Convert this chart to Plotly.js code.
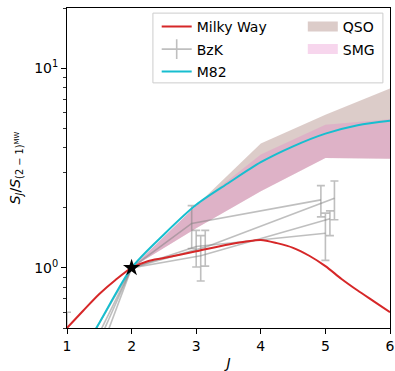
<!DOCTYPE html>
<html>
<head>
<meta charset="utf-8">
<script src="https://cdn.plot.ly/plotly-3.0.1.min.js"></script>
<style>html,body{margin:0;padding:0;background:#fff;}#chart{width:395px;height:371px;}</style>
</head>
<body>
<div id="chart"></div>
<script>
// ---- data ----
const mwJ   = [1, 1.25, 1.5, 1.75, 2, 2.25, 2.5, 3, 3.5, 3.75, 4, 4.25, 4.5, 4.75, 5, 5.25, 5.5, 5.75, 6];
const mwS   = [0.50, 0.61, 0.74, 0.87, 1.00, 1.08, 1.12, 1.21, 1.31, 1.35, 1.38, 1.33, 1.26, 1.15, 1.02, 0.88, 0.77, 0.68, 0.60];

const m82J  = [1, 1.5, 2, 2.5, 3, 3.5, 4, 4.5, 5, 5.5, 6];
const m82S  = [0.28, 0.53, 1.00, 1.47, 2.07, 2.66, 3.38, 4.06, 4.70, 5.18, 5.45];

const bandJ    = [2, 3, 4, 5, 6];
const qsoHigh  = [1.00, 2.05, 4.20, 5.85, 7.90];
const qsoLow   = [1.00, 1.58, 2.42, 3.55, 3.52];
const smgHigh  = [1.00, 2.05, 3.70, 5.20, 5.55];
const smgLow   = [1.00, 1.58, 2.42, 3.55, 3.52];

const bzkJ = [1, 2, 3, 5];
const bzkS = [
  [0.20, 1, 1.67, 2.19],
  [0.28, 1, 1.28, 1.49],
  [0.21, 1, 1.15, 1.76],
  [0.18, 1, 1.27, 2.23]
];
const bzkErrUp = [
  [0.08, 0, 0.38, 0.39],
  [0.32, 0, 0.26, 0.39],
  [0.08, 0, 0.30, 0.17],
  [0.07, 0, 0.27, 0.49]
];
const bzkErrDn = [
  [0.08, 0, 0.42, 0.39],
  [0.12, 0, 0.27, 0.40],
  [0.08, 0, 0.29, 0.31],
  [0.07, 0, 0.25, 0.49]
];
const refJ = [2];
const refS = [1];

const yTickVals = [1, 10];
const yTickText = ['10<sup>0</sup>', '10<sup>1</sup>'];
const yMinorVals = [0.5, 0.6, 0.7, 0.8, 0.9, 2, 3, 4, 5, 6, 7, 8, 9, 20];

// ---- styling ----
const FONT = 'DejaVu Sans, sans-serif';
const xOffsets = [-0.07, 0, 0.07, 0.14];   // horizontal dodge of the sources (not at J=2)
const grayC = 'rgba(128,128,128,0.5)';

function band(J, hi, lo) {
  return { x: J.concat(J.slice().reverse()), y: hi.concat(lo.slice().reverse()) };
}
const qso = band(bandJ, qsoHigh, qsoLow);
const smg = band(bandJ, smgHigh, smgLow);

const traces = [];
traces.push({ x: qso.x, y: qso.y, type: 'scatter', mode: 'lines', fill: 'toself',
  fillcolor: 'rgba(140,86,75,0.3)', line: { width: 0 }, showlegend: false, hoverinfo: 'skip' });
traces.push({ x: smg.x, y: smg.y, type: 'scatter', mode: 'lines', fill: 'toself',
  fillcolor: 'rgba(227,119,194,0.3)', line: { width: 0 }, showlegend: false, hoverinfo: 'skip' });

bzkS.forEach((s, i) => {
  traces.push({
    x: bzkJ.map(j => j === 2 ? j : j + xOffsets[i]), y: s,
    type: 'scatter', mode: 'lines', line: { color: grayC, width: 1.6 },
    error_y: { type: 'data', symmetric: false, array: bzkErrUp[i], arrayminus: bzkErrDn[i],
      color: grayC, thickness: 1.6, width: 4 },
    showlegend: false
  });
});

traces.push({ x: mwJ, y: mwS, type: 'scatter', mode: 'lines', name: 'Milky Way',
  line: { color: '#d62728', width: 2, shape: 'spline', smoothing: 0.8 }, legend: 'legend' });
traces.push({ x: m82J, y: m82S, type: 'scatter', mode: 'lines', name: 'M82',
  line: { color: '#17becf', width: 2, shape: 'spline', smoothing: 0.8 }, legend: 'legend3' });
traces.push({ x: refJ, y: refS, type: 'scatter', mode: 'markers', showlegend: false,
  marker: { symbol: 'star', size: 13, color: '#000' } });

// legend-only entries
traces.push({ x: [null], y: [null], type: 'scatter', mode: 'lines+markers', name: 'BzK',
  line: { color: 'rgb(191,191,191)', width: 1.6 },
  marker: { symbol: 'line-ns-open', size: 14, line: { color: 'rgb(191,191,191)', width: 1.6 } },
  legend: 'legend2' });
traces.push({ x: [null], y: [null], type: 'scatter', mode: 'lines', name: 'QSO',
  line: { color: 'rgb(220,204,201)', width: 11 }, legend: 'legend4' });
traces.push({ x: [null], y: [null], type: 'scatter', mode: 'lines', name: 'SMG',
  line: { color: 'rgb(247,214,237)', width: 11 }, legend: 'legend5' });

function leg(x, y) {
  return { orientation: 'v', x: x, xanchor: 'left', y: y, yanchor: 'middle',
    bgcolor: 'rgba(0,0,0,0)', borderwidth: 0,
    font: { family: FONT, size: 14, color: '#000' }, itemwidth: 30 };
}
const col1 = 0.2777, col2 = 0.7300;
const row1 = 0.9406, row2 = 0.8703, row3 = 0.80;

const layout = {
  width: 395, height: 371,
  margin: { l: 67, r: 5, t: 8, b: 43 },
  paper_bgcolor: '#fff', plot_bgcolor: '#fff',
  font: { family: FONT, size: 14, color: '#000' },
  showlegend: true,
  legend: leg(col1, row1),
  legend2: leg(col1, row2),
  legend3: leg(col1, row3),
  legend4: leg(col2, row1),
  legend5: leg(col2, row2),
  xaxis: {
    range: [1, 6], tickmode: 'linear', tick0: 1, dtick: 1,
    ticks: 'outside', ticklen: 5, tickwidth: 1, tickcolor: '#000',
    showline: true, linecolor: '#000', linewidth: 1, mirror: true,
    showgrid: false, zeroline: false,
    tickfont: { family: FONT, size: 14, color: '#000' },
    title: { text: '<i>J</i>', font: { family: FONT, size: 14, color: '#000' }, standoff: 10 }
  },
  yaxis: {
    type: 'log', range: [Math.log10(0.5), Math.log10(20)],
    tickmode: 'array', tickvals: yTickVals, ticktext: yTickText,
    ticks: 'outside', ticklen: 5, tickwidth: 1, tickcolor: '#000',
    minor: { tickmode: 'array', tickvals: yMinorVals, ticks: 'outside', ticklen: 3, tickwidth: 0.8, tickcolor: '#000', showgrid: false },
    showline: true, linecolor: '#000', linewidth: 1, mirror: true,
    showgrid: false, zeroline: false,
    tickfont: { family: FONT, size: 14, color: '#000' },
    title: { text: '<i>S<sub>J</sub></i>/<i>S</i><sub>(2 − 1)<sup>MW</sup></sub>', font: { family: FONT, size: 14, color: '#000' }, standoff: 10 }
  },
  shapes: [{
    type: 'rect', xref: 'paper', yref: 'paper', layer: 'above',
    x0: 0.266, x1: 0.978, y0: 0.766, y1: 0.984,
    line: { color: 'rgb(204,204,204)', width: 1 }, fillcolor: 'rgba(255,255,255,0.8)'
  }]
};

Plotly.newPlot('chart', traces, layout, { displayModeBar: false, staticPlot: true });
</script>
</body>
</html>
